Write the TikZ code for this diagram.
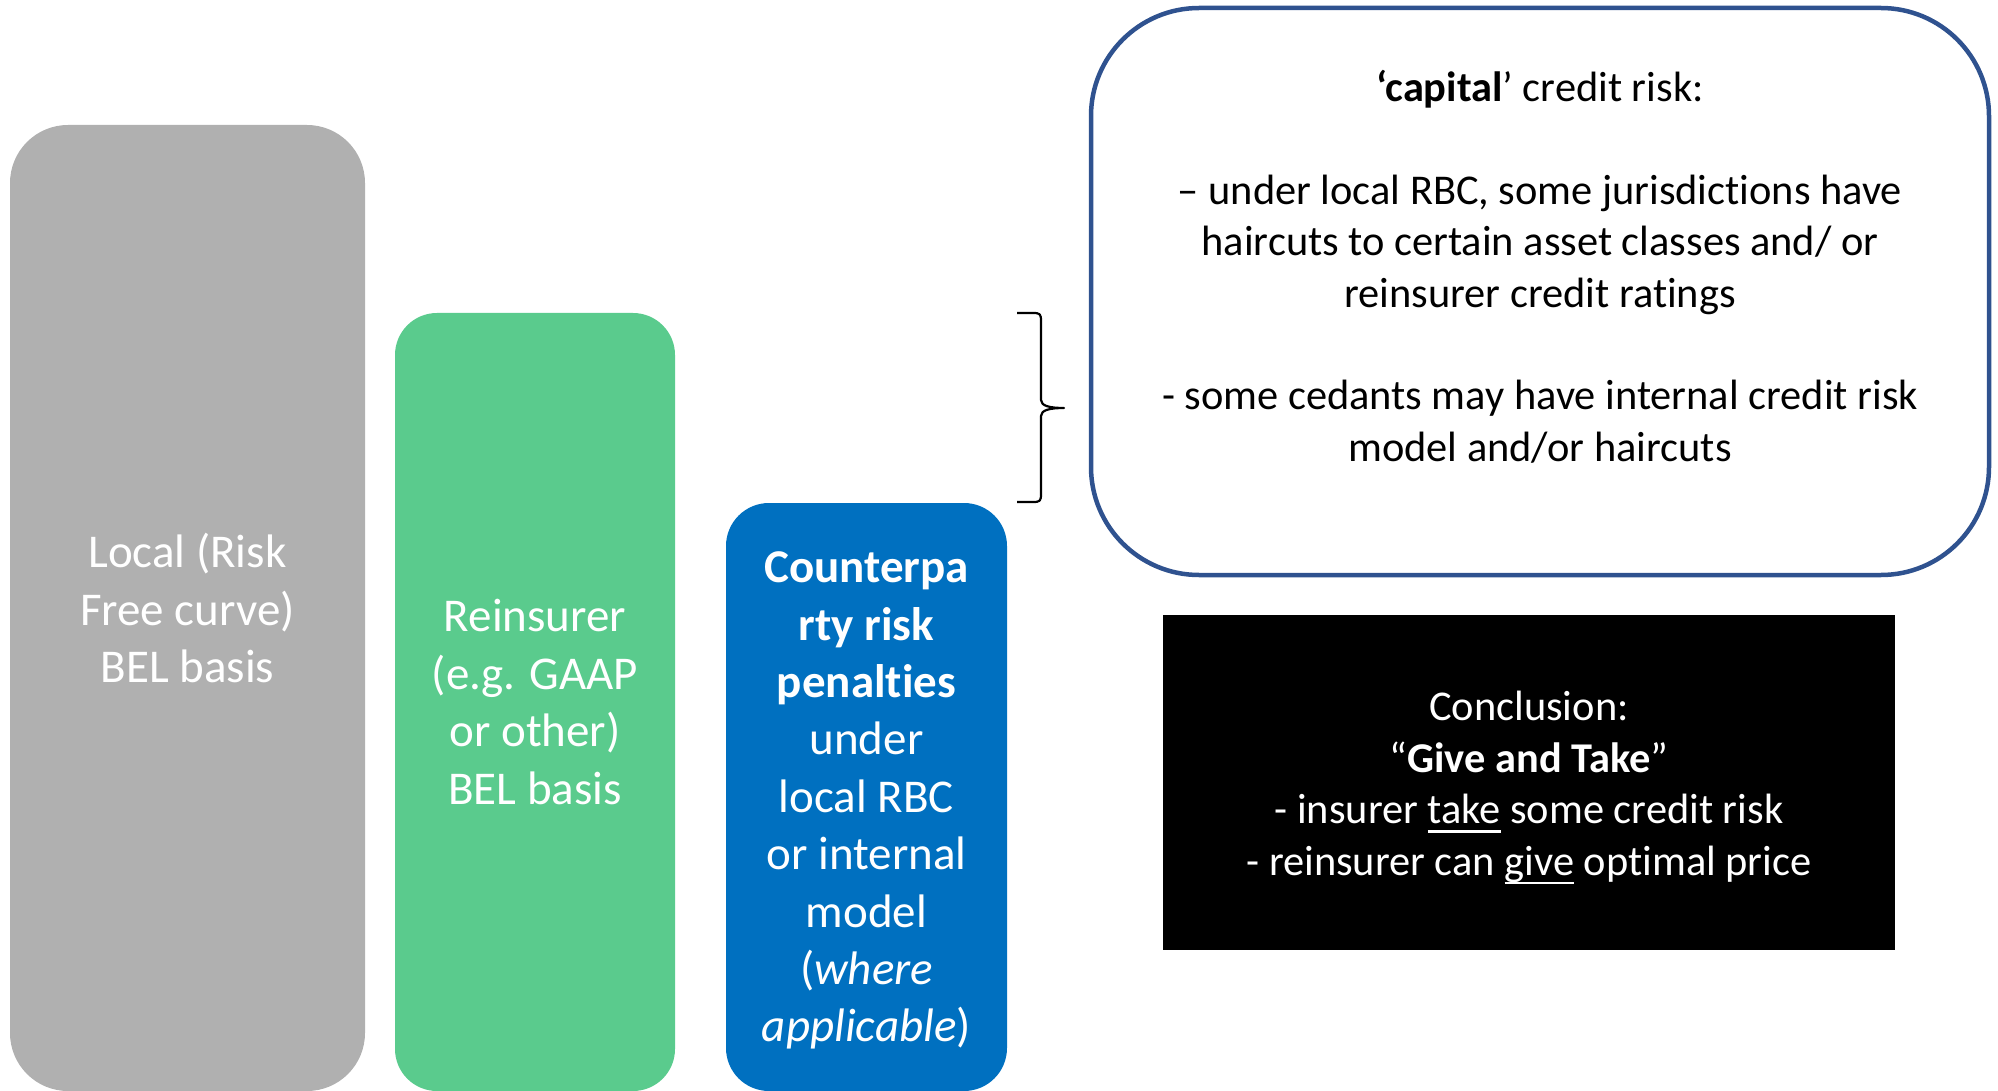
\documentclass[tikz,border=0pt]{standalone}
\usepackage{fontspec}
\setmainfont{Carlito}[Ligatures=NoCommon]
\definecolor{barGray}{HTML}{B0B0B0}
\definecolor{barGreen}{HTML}{5ACB8D}
\definecolor{barBlue}{HTML}{0070C0}
\definecolor{frameBlue}{HTML}{2F528F}
% underline with a rule that scales with the text size
\newcommand{\ulword}[1]{\setbox0\hbox{#1}\rlap{\rule[-4.6pt]{\wd0}{1.3pt}}\box0\relax}
\begin{document}
\begin{tikzpicture}[x=0.5pt,y=-0.5pt,
  bar/.style={inner sep=0pt, text=white, align=center,
    font=\fontsize{23.5}{28.7}\selectfont},
  note/.style={inner sep=0pt, align=center,
    font=\fontsize{21.2}{25.7}\selectfont}]
\useasboundingbox (0,0) rectangle (1998,1091);

% three stacked-height bars
\node[bar, fill=barGray, rounded corners=29pt,
  minimum width=177.5pt, minimum height=483pt] (local) at (187.5,608)
  {Local (Risk\\Free curve)\\BEL basis};
\node[bar, fill=barGreen, rounded corners=21pt,
  minimum width=140pt, minimum height=389pt] (reins) at (535,702)
  {Reinsurer\\(e.g. GAAP\\or other)\\BEL basis};
\node[bar, fill=barBlue, rounded corners=21.5pt,
  minimum width=140.5pt, minimum height=294pt] (cpty) at (866.5,797)
  {\rule{0pt}{19pt}\textbf{Counterpa}\\\textbf{rty risk}\\\textbf{penalties}\\under\\local RBC\\or internal\\model\\(\textit{where}\\\textit{applicable})};

% capital credit risk note
\node[note, draw=frameBlue, line width=2.25pt, rounded corners=54pt,
  minimum width=449pt, minimum height=283.5pt] (capital) at (1540,291.5)
  {\textbf{‘capital}’ credit risk:\\[25.7pt]%
   – under local RBC, some jurisdictions have\\
   haircuts to certain asset classes and/ or\\
   reinsurer credit ratings\\[25.7pt]%
   - some cedants may have internal credit risk\\
   model and/or haircuts\\\mbox{}};

% conclusion box
\node[note, fill=black, text=white,
  minimum width=366pt, minimum height=167.5pt] (concl) at (1529,782.5)
  {\rule{0pt}{20pt}Conclusion:\\
   “\textbf{Give and Take}”\\
   - insurer \ulword{take} some credit risk\\
   - reinsurer can \ulword{give} optimal price};

% right brace linking the counterparty bar to the note
\coordinate (bracetop) at (1017,313);
\coordinate (bracebot) at (1017,502);
\coordinate (bracetip) at (1064,408);
\draw[line width=1.1pt, line join=round]
  (bracetop) -- ++(16,0)
    .. controls +(7,0) and +(0,-7) .. ++(8,8)
    -- ++(0,79)
    .. controls +(0,6) and +(-14,0) .. (bracetip)
    .. controls +(-14,0) and +(0,-6) .. ++(-23,8)
    -- ++(0,78)
    .. controls +(0,7) and +(7,0) .. ++(-8,8)
    -- (bracebot);
\end{tikzpicture}
\end{document}
